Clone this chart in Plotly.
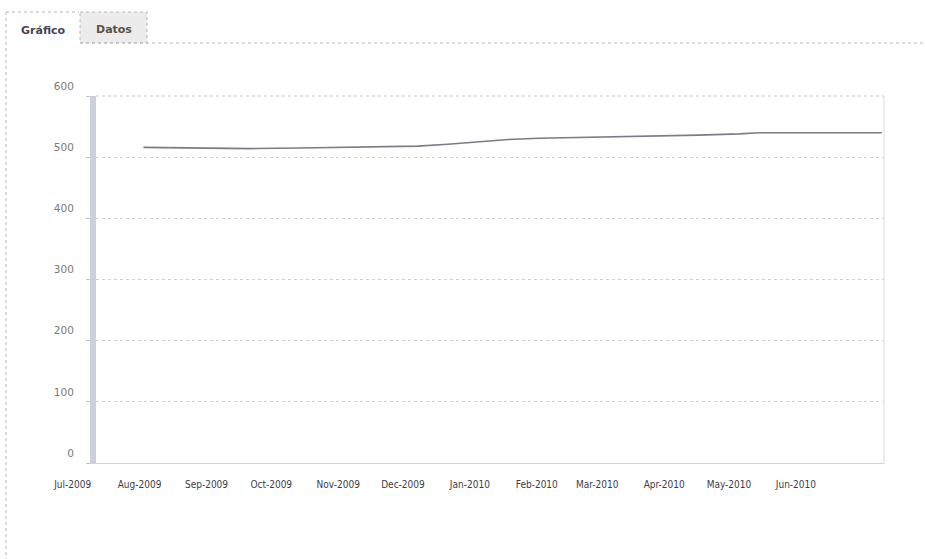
import plotly.graph_objects as go

# Series: monthly-ish readings, Aug 2009 - Jul 2010
dates = [
    "2009-08-03", "2009-08-29", "2009-09-21", "2009-10-14", "2009-11-06",
    "2009-11-29", "2009-12-08", "2009-12-22", "2010-01-05", "2010-01-19",
    "2010-02-02", "2010-02-20", "2010-03-11", "2010-03-30", "2010-04-17",
    "2010-05-06", "2010-05-15", "2010-06-03", "2010-06-25", "2010-07-11",
]
values = [
    516, 515, 514, 515, 516,
    517, 518, 521, 525, 529,
    531, 532, 533, 534, 536,
    538, 540, 540, 540, 540,
]

# Axis labels
month_ticks = [
    "2009-07-16", "2009-08-16", "2009-09-16", "2009-10-16", "2009-11-16",
    "2009-12-16", "2010-01-16", "2010-02-16", "2010-03-16", "2010-04-16",
    "2010-05-16", "2010-06-16",
]
month_labels = [
    "Jul-2009", "Aug-2009", "Sep-2009", "Oct-2009", "Nov-2009", "Dec-2009",
    "Jan-2010", "Feb-2010", "Mar-2010", "Apr-2010", "May-2010", "Jun-2010",
]
y_ticks = [0, 100, 200, 300, 400, 500, 600]

W, H = 925, 559
ML, MR, MT, MB = 96, 41, 96, 96
PW, PH = W - ML - MR, H - MT - MB


def px(x):
    return (x - ML) / PW


def py(y):
    return (H - MB - y) / PH


fig = go.Figure()
fig.add_trace(go.Scatter(
    x=dates, y=values, mode="lines",
    line=dict(color="#7c7b86", width=1.6),
    showlegend=False, hoverinfo="x+y",
))

fig.update_layout(
    width=W, height=H,
    margin=dict(l=ML, r=MR, t=MT, b=MB),
    paper_bgcolor="white", plot_bgcolor="white",
    font=dict(family="DejaVu Sans", color="#555"),
    xaxis=dict(
        type="date", range=["2009-07-12", "2010-07-12"],
        tickmode="array", tickvals=month_ticks, ticktext=month_labels,
        ticklabelshift=-32, ticklabelstandoff=12,
        tickfont=dict(size=10, color="#3c3c48", family="DejaVu Sans Condensed"),
        showgrid=False, zeroline=False,
        showline=True, linecolor="#d4d4d8", linewidth=1,
        ticks="",
    ),
    yaxis=dict(
        range=[0, 600], tickmode="array", tickvals=y_ticks,
        ticklabelshift=-10, ticklabelstandoff=10,
        tickfont=dict(size=10.5, color="#7a7a7a"),
        showgrid=True, gridcolor="#d2d2d6", griddash="dot", gridwidth=1,
        zeroline=False,
        showline=True, linecolor="#cdd0d8", linewidth=6,
        ticks="outside", ticklen=4, tickcolor="#c4c4c8",
    ),
)

# top and right borders of the plot frame
fig.add_shape(type="line", xref="paper", yref="paper", x0=0, x1=1, y0=1, y1=1,
              line=dict(color="#c8c8cc", width=1, dash="dot"))
fig.add_shape(type="line", xref="paper", yref="paper", x0=1, x1=1, y0=0, y1=1,
              line=dict(color="#dcdce0", width=1))

# page border and tab strip
dot = dict(color="#b8b8b8", width=1, dash="dot")
fig.add_shape(type="line", xref="paper", yref="paper",
              x0=px(6), x1=px(6), y0=py(12), y1=py(559), line=dot)
fig.add_shape(type="line", xref="paper", yref="paper",
              x0=px(6), x1=px(79), y0=py(12), y1=py(12), line=dot)
fig.add_shape(type="rect", xref="paper", yref="paper",
              x0=px(80), x1=px(147), y0=py(12), y1=py(43),
              fillcolor="#ececec", line=dot, layer="below")
fig.add_shape(type="line", xref="paper", yref="paper",
              x0=px(80), x1=px(925), y0=py(43), y1=py(43), line=dot)

fig.add_annotation(text="<b>Gráfico</b>", xref="paper", yref="paper",
                   x=px(43), y=py(31), xanchor="center", yanchor="middle",
                   showarrow=False, font=dict(size=11, color="#4a4452"))
fig.add_annotation(text="<b>Datos</b>", xref="paper", yref="paper",
                   x=px(114), y=py(29), xanchor="center", yanchor="middle",
                   showarrow=False, font=dict(size=11, color="#5a5244"))

fig.write_html("out.html")
